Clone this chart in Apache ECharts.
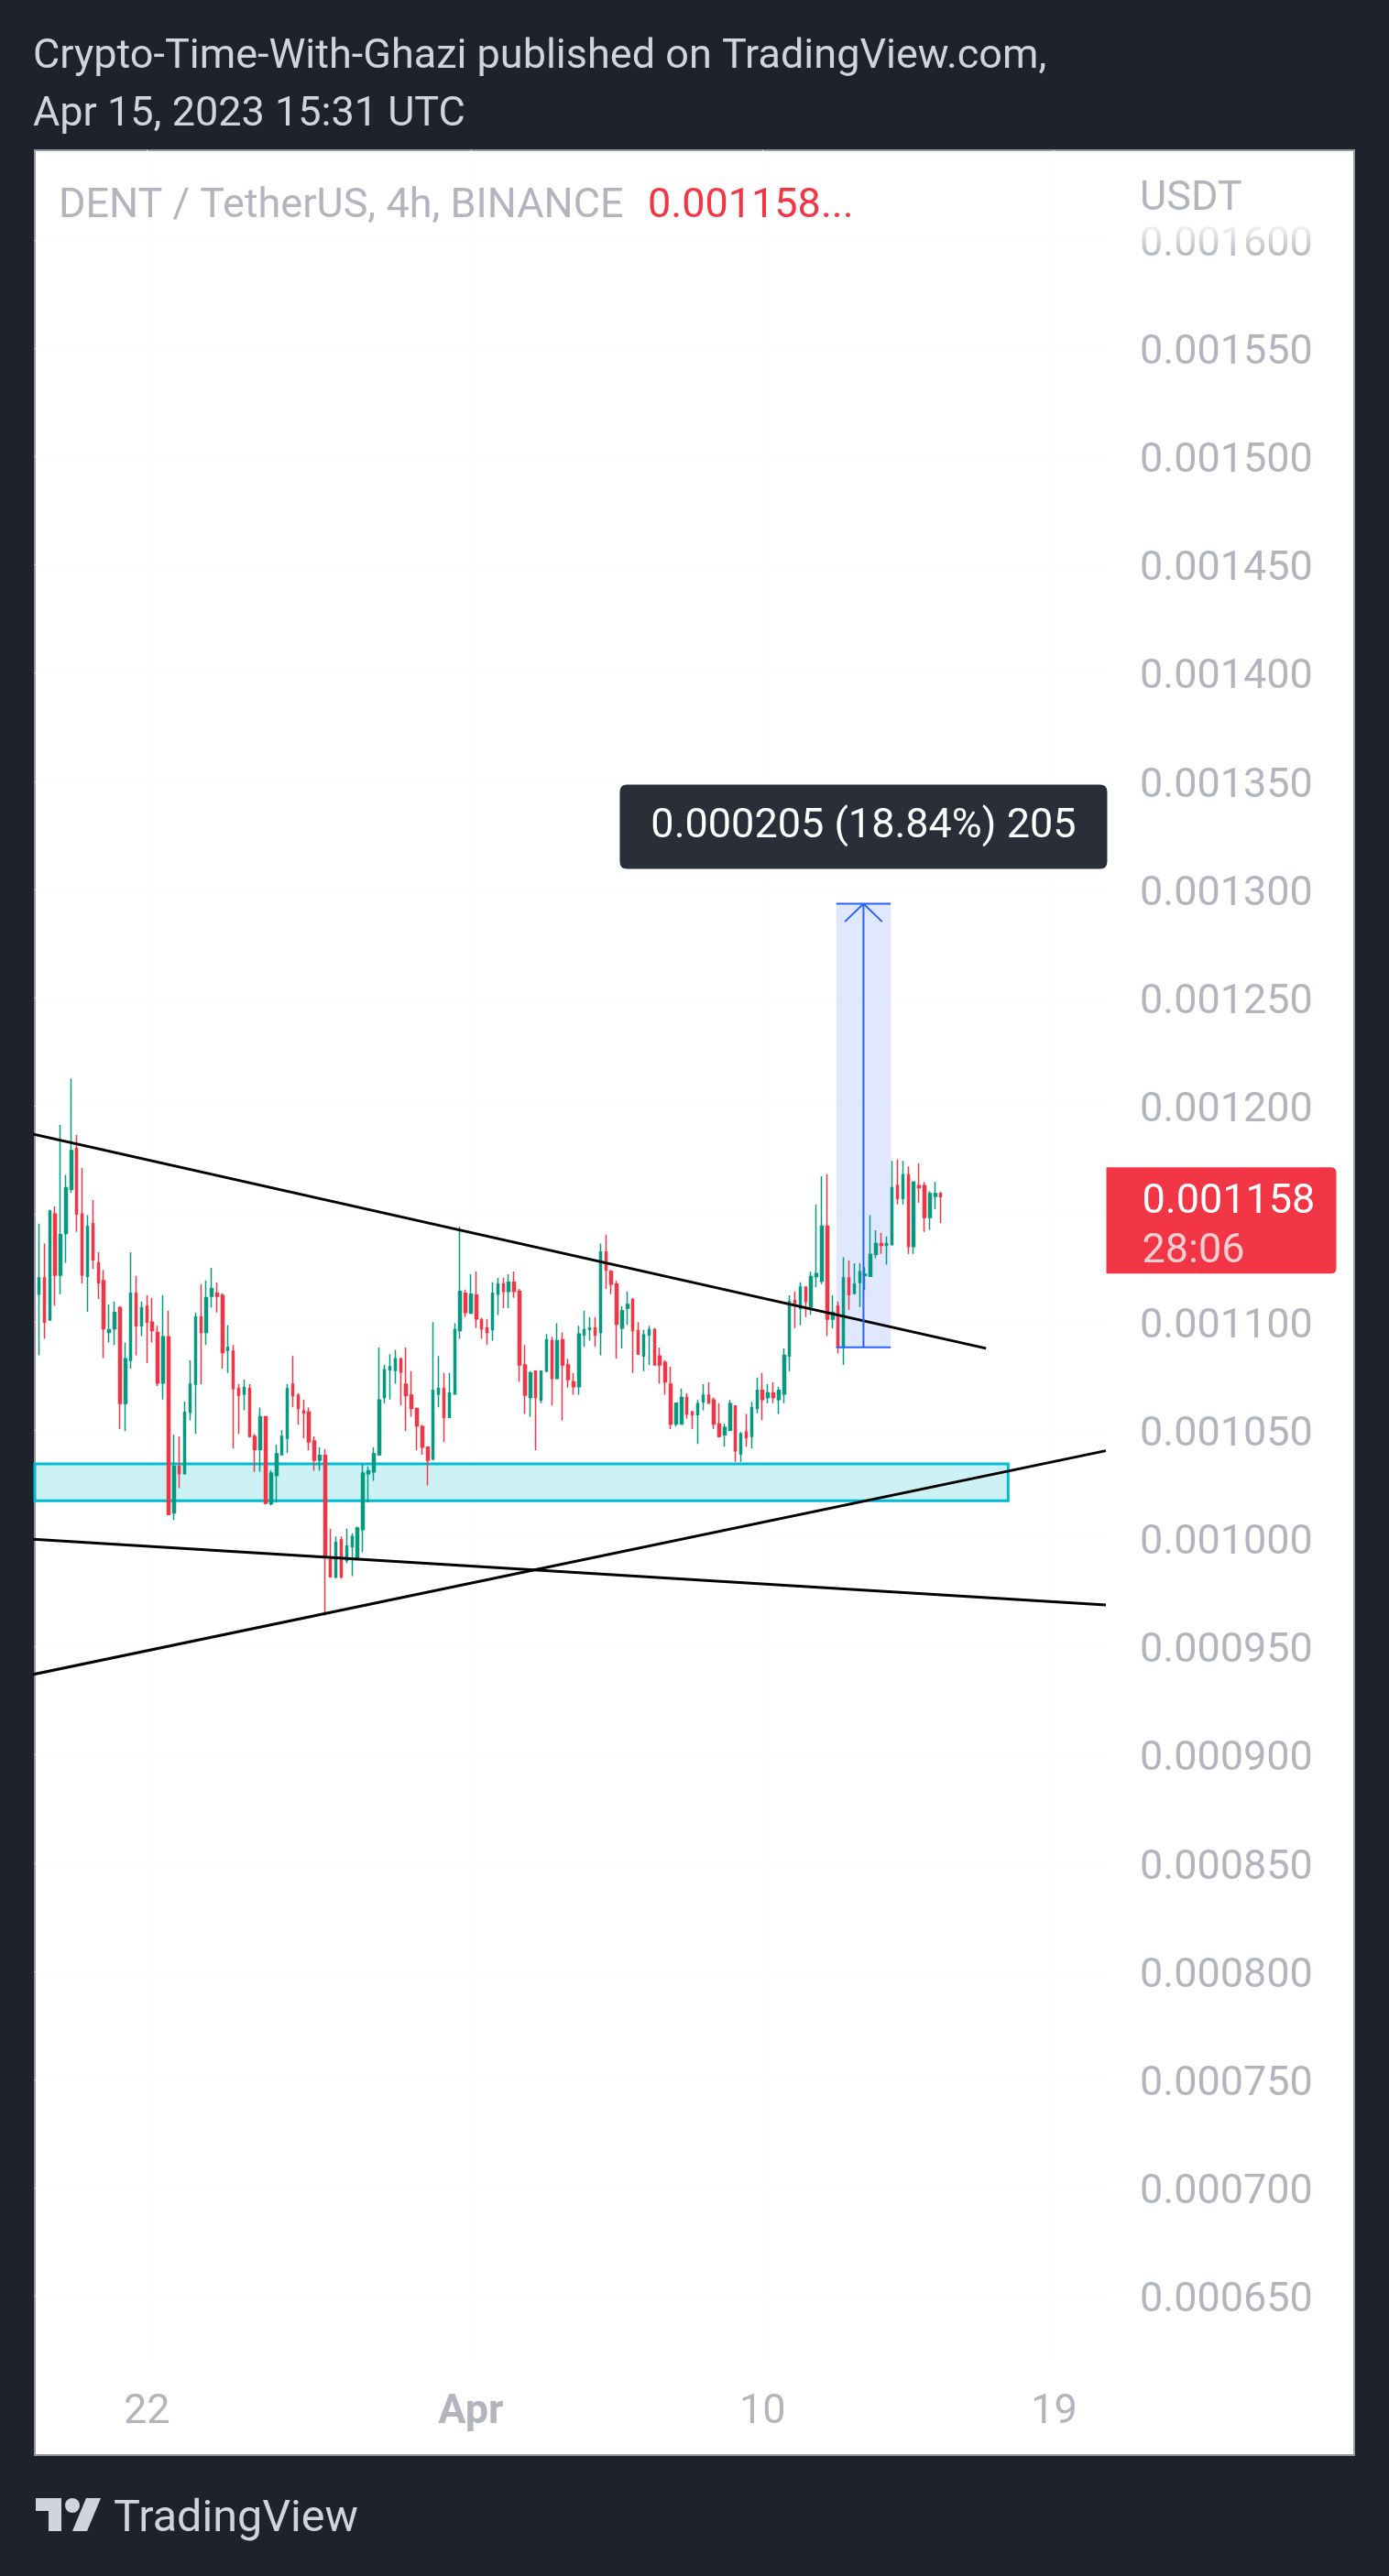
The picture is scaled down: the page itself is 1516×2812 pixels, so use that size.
<!DOCTYPE html>
<html><head><meta charset="utf-8">
<script src="https://cdn.jsdelivr.net/npm/echarts@6/dist/echarts.min.js"></script>
<style>html,body{margin:0;padding:0;background:#1e222d;}#c{width:1516px;height:2812px;}</style>
</head><body><div id="c"></div>
<script>
// 4h candles, index 0 = Mar 18 16:00 UTC ... index 167 = Apr 15 12:00 UTC
const opens = [0.0011129,0.0011204,0.0011011,0.0011500,0.0011217,0.0011410,0.0011614,0.0011803,0.0011500,0.0011212,
0.0011455,0.0011274,0.0011192,0.0010953,0.0010970,0.0011067,0.0010625,0.0010824,0.0011134,0.0010983,
0.0011073,0.0011000,0.0010953,0.0010719,0.0010933,0.0010119,0.0010333,0.0010300,0.0010583,0.0010713,
0.0011023,0.0010953,0.0011120,0.0011134,0.0011124,0.0010870,0.0010866,0.0010693,0.0010668,0.0010693,
0.0010472,0.0010412,0.0010563,0.0010161,0.0010292,0.0010387,0.0010464,0.0010713,0.0010663,0.0010590,
0.0010585,0.0010451,0.0010362,0.0010384,0.0009903,0.0009823,0.0009994,0.0009898,0.0009962,0.0009903,
0.0010041,0.0010300,0.0010308,0.0010387,0.0010652,0.0010780,0.0010777,0.0010831,0.0010713,0.0010663,
0.0010601,0.0010518,0.0010422,0.0010367,0.0010668,0.0010693,0.0010560,0.0010668,0.0010961,0.0011134,
0.0011042,0.0011125,0.0011011,0.0010973,0.0010965,0.0011129,0.0011176,0.0011142,0.0011184,0.0011142,
0.0010802,0.0010652,0.0010774,0.0010640,0.0010774,0.0010914,0.0010740,0.0010919,0.0010802,0.0010724,
0.0010702,0.0010941,0.0010966,0.0010973,0.0010953,0.0011324,0.0011234,0.0011176,0.0010973,0.0011065,
0.0011104,0.0010961,0.0010844,0.0010941,0.0010965,0.0010844,0.0010814,0.0010713,0.0010529,0.0010529,
0.0010652,0.0010585,0.0010573,0.0010632,0.0010663,0.0010640,0.0010529,0.0010479,0.0010501,0.0010613,
0.0010392,0.0010492,0.0010472,0.0010601,0.0010685,0.0010652,0.0010673,0.0010643,0.0010668,0.0010844,
0.0011100,0.0011065,0.0011162,0.0011070,0.0011211,0.0011190,0.0011444,0.0011014,0.0011073,0.0010887,
0.0011204,0.0011134,0.0011183,0.0011216,0.0011212,0.0011313,0.0011363,0.0011355,0.0011358,0.0011631,
0.0011572,0.0011681,0.0011349,0.0011631,0.0011631,0.0011484,0.0011581,0.0011594];
const closes = [0.0011204,0.0011000,0.0011514,0.0011217,0.0011405,0.0011622,0.0011793,0.0011500,0.0011217,0.0011442,
0.0011288,0.0011182,0.0010970,0.0010965,0.0011045,0.0010625,0.0010831,0.0011134,0.0010983,0.0011067,
0.0011000,0.0010961,0.0010719,0.0010933,0.0010111,0.0010333,0.0010300,0.0010583,0.0010713,0.0011023,
0.0010953,0.0011113,0.0011155,0.0011120,0.0010859,0.0010883,0.0010693,0.0010663,0.0010697,0.0010472,
0.0010412,0.0010563,0.0010163,0.0010303,0.0010392,0.0010472,0.0010693,0.0010660,0.0010601,0.0010580,
0.0010447,0.0010362,0.0010384,0.0009915,0.0009823,0.0009982,0.0009823,0.0009965,0.0010010,0.0010049,
0.0010303,0.0010313,0.0010392,0.0010640,0.0010780,0.0010794,0.0010831,0.0010769,0.0010660,0.0010601,
0.0010521,0.0010422,0.0010362,0.0010685,0.0010693,0.0010560,0.0010672,0.0010965,0.0011142,0.0011045,
0.0011129,0.0011015,0.0010970,0.0010953,0.0011134,0.0011176,0.0011142,0.0011184,0.0011142,0.0010802,
0.0010663,0.0010765,0.0010652,0.0010774,0.0010919,0.0010740,0.0010914,0.0010802,0.0010735,0.0010702,
0.0010945,0.0010965,0.0010973,0.0010941,0.0011324,0.0011242,0.0011176,0.0010991,0.0011053,0.0011082,
0.0010961,0.0010852,0.0010941,0.0010965,0.0010802,0.0010802,0.0010724,0.0010529,0.0010626,0.0010652,
0.0010576,0.0010573,0.0010623,0.0010663,0.0010626,0.0010529,0.0010472,0.0010513,0.0010623,0.0010405,
0.0010484,0.0010467,0.0010605,0.0010685,0.0010643,0.0010673,0.0010652,0.0010685,0.0010847,0.0011095,
0.0011087,0.0011162,0.0011095,0.0011211,0.0011225,0.0011444,0.0011014,0.0011046,0.0010887,0.0011204,
0.0011127,0.0011176,0.0011233,0.0011221,0.0011313,0.0011363,0.0011355,0.0011363,0.0011622,0.0011572,
0.0011681,0.0011349,0.0011648,0.0011622,0.0011484,0.0011594,0.0011594,0.0011580];
const highs = [0.0011455,0.0011363,0.0011520,0.0011535,0.0011912,0.0011681,0.0012125,0.0011865,0.0011713,0.0011494,
0.0011564,0.0011323,0.0011242,0.0011082,0.0011095,0.0011073,0.0010906,0.0011323,0.0011214,0.0011095,
0.0011125,0.0011112,0.0010983,0.0011125,0.0011053,0.0010481,0.0010472,0.0010633,0.0010824,0.0011045,
0.0011176,0.0011193,0.0011251,0.0011183,0.0011134,0.0010986,0.0010894,0.0010713,0.0010735,0.0010713,
0.0010484,0.0010605,0.0010563,0.0010315,0.0010434,0.0010501,0.0010713,0.0010844,0.0010672,0.0010642,
0.0010605,0.0010472,0.0010422,0.0010414,0.0010046,0.0010010,0.0010010,0.0010046,0.0010024,0.0010055,
0.0010345,0.0010333,0.0010422,0.0010883,0.0010802,0.0010852,0.0010872,0.0010835,0.0010883,0.0010774,
0.0010605,0.0010526,0.0010425,0.0011000,0.0010844,0.0010765,0.0010765,0.0010995,0.0011442,0.0011150,
0.0011221,0.0011234,0.0011020,0.0011015,0.0011184,0.0011204,0.0011204,0.0011221,0.0011234,0.0011154,
0.0010894,0.0010774,0.0010776,0.0010776,0.0010945,0.0010933,0.0010995,0.0010953,0.0010831,0.0010765,
0.0010983,0.0011053,0.0011023,0.0011023,0.0011363,0.0011405,0.0011242,0.0011191,0.0011073,0.0011142,
0.0011112,0.0011000,0.0010965,0.0010983,0.0010973,0.0010883,0.0010824,0.0010794,0.0010628,0.0010693,
0.0010672,0.0010590,0.0010640,0.0010713,0.0010722,0.0010652,0.0010626,0.0010531,0.0010640,0.0010615,
0.0010492,0.0010576,0.0010632,0.0010744,0.0010765,0.0010713,0.0010722,0.0010702,0.0010878,0.0011124,
0.0011142,0.0011184,0.0011165,0.0011233,0.0011543,0.0011674,0.0011684,0.0011124,0.0011096,0.0011300,
0.0011285,0.0011272,0.0011272,0.0011254,0.0011494,0.0011425,0.0011413,0.0011396,0.0011745,0.0011753,
0.0011745,0.0011720,0.0011650,0.0011735,0.0011648,0.0011606,0.0011648,0.0011602];
const lows = [0.0010847,0.0010923,0.0011005,0.0011075,0.0011129,0.0011274,0.0011597,0.0011417,0.0011179,0.0011048,
0.0011246,0.0011107,0.0010834,0.0010906,0.0010894,0.0010506,0.0010496,0.0010785,0.0010847,0.0010936,
0.0010811,0.0010906,0.0010705,0.0010643,0.0010108,0.0010086,0.0010233,0.0010300,0.0010546,0.0010484,
0.0010713,0.0010894,0.0011068,0.0011045,0.0010785,0.0010765,0.0010417,0.0010484,0.0010593,0.0010467,
0.0010308,0.0010308,0.0010158,0.0010154,0.0010166,0.0010387,0.0010395,0.0010606,0.0010526,0.0010464,
0.0010409,0.0010313,0.0010313,0.0009644,0.0009820,0.0009815,0.0009815,0.0009886,0.0009826,0.0009900,
0.0009937,0.0010166,0.0010267,0.0010382,0.0010626,0.0010643,0.0010715,0.0010615,0.0010496,0.0010563,
0.0010409,0.0010387,0.0010246,0.0010362,0.0010606,0.0010446,0.0010558,0.0010665,0.0010923,0.0011023,
0.0011040,0.0010973,0.0010923,0.0010894,0.0010914,0.0011033,0.0011065,0.0011065,0.0011112,0.0010724,
0.0010576,0.0010563,0.0010409,0.0010626,0.0010769,0.0010615,0.0010738,0.0010546,0.0010697,0.0010665,
0.0010665,0.0010886,0.0010914,0.0010886,0.0010847,0.0011154,0.0011129,0.0010832,0.0010878,0.0010986,
0.0010765,0.0010850,0.0010774,0.0010802,0.0010800,0.0010715,0.0010665,0.0010506,0.0010518,0.0010526,
0.0010554,0.0010506,0.0010437,0.0010593,0.0010624,0.0010506,0.0010467,0.0010426,0.0010496,0.0010355,
0.0010355,0.0010426,0.0010417,0.0010579,0.0010546,0.0010626,0.0010626,0.0010576,0.0010626,0.0010774,
0.0010973,0.0010986,0.0011023,0.0011035,0.0011162,0.0011176,0.0010936,0.0010972,0.0010856,0.0010802,
0.0011056,0.0011127,0.0011070,0.0011148,0.0011209,0.0011296,0.0011316,0.0011266,0.0011355,0.0011544,
0.0011544,0.0011316,0.0011316,0.0011552,0.0011417,0.0011427,0.0011522,0.0011458];

// time axis labels (candle index of each labelled midnight)
const timeTickIdx = [20, 80, 134, 188];
const timeTickText = ['22', 'Apr', '10', '19'];
// price axis tick labels
const priceTicks = [0.00065,0.0007,0.00075,0.0008,0.00085,0.0009,0.00095,0.001,0.00105,0.0011,
0.00115,0.0012,0.00125,0.0013,0.00135,0.0014,0.00145,0.0015,0.00155,0.0016];

const lastPrice = 0.001158;
const countdown = '28:06';

// drawings, in (candle index, price)
const upperTrend = [[-3, 0.0011880], [175.4, 0.0010879]];
const lowerLine = [[-3, 0.0010000], [197.6, 0.0009693]];
const risingTrend = [[-3, 0.0009362], [197.6, 0.0010406]];
const supportZone = [[-3, 0.0010345], [179.5, 0.0010175]];
const measureBox = [[147.66, 0.0012934], [157.76, 0.0010884]];
const measureMidX = [152.71];
const measureArrowHead = [[149.26, 0.0012851], [152.71, 0.0012934], [156.16, 0.0012851]];
const measureText = '0.000205 (18.84%) 205';

const candleData = opens.map((o, i) => [i, o, closes[i], lows[i], highs[i]]);
const UP = '#089981', DOWN = '#f23645', BLUE = '#2962ff';
const FONT = 'Roboto';
const FS = 45;

const chart = echarts.init(document.getElementById('c'), null, {renderer: 'canvas'});

function lineSeries(data, color, width, z) {
  return {type: 'line', data: data, symbol: 'none', silent: true, z: z,
    lineStyle: {color: color, width: width}, clip: true, animation: false};
}

const option = {
  animation: false,
  backgroundColor: '#1e222d',
  textStyle: {fontFamily: FONT},
  grid: {left: 38, right: 309, top: 164, bottom: 236, containLabel: false},
  xAxis: {
    type: 'value', min: -0.76, max: 197.6,
    axisLine: {show: false},
    axisTick: {show: false, customValues: timeTickIdx},
    splitLine: {show: true, lineStyle: {color: '#fafbfc', width: 1}},
    axisLabel: {
      customValues: timeTickIdx, color: '#b2b5be', fontSize: FS, fontFamily: FONT,
      margin: 58, verticalAlign: 'middle',
      formatter: function (v) {
        const k = timeTickIdx.indexOf(Math.round(v));
        const t = k >= 0 ? timeTickText[k] : '';
        return t === 'Apr' ? '{b|Apr}' : t;
      },
      rich: {b: {fontWeight: 'bold', fontSize: FS, color: '#b2b5be', fontFamily: FONT}}
    }
  },
  yAxis: {
    type: 'value', position: 'right', min: 0.00062045, max: 0.00164162,
    axisLine: {show: false},
    axisTick: {show: false, customValues: priceTicks},
    splitLine: {show: true, lineStyle: {color: '#fafbfc', width: 1}},
    axisLabel: {
      customValues: priceTicks, color: '#b2b5be', fontSize: FS, fontFamily: FONT, margin: 37,
      verticalAlign: 'top', lineHeight: 11,
      formatter: function (v) { return v.toFixed(6); }
    }
  },
  series: [
    {
      type: 'candlestick', z: 2, data: candleData,
      encode: {x: 0, y: [1, 2, 3, 4]},
      barWidth: 3,
      itemStyle: {color: UP, color0: DOWN, borderColor: UP, borderColor0: DOWN, borderWidth: 1.5},
      clip: true,
      markArea: {
        silent: true,
        data: [
          [{xAxis: supportZone[0][0], yAxis: supportZone[0][1],
            itemStyle: {color: 'rgba(0,188,212,0.2)', borderColor: '#00bcd4', borderWidth: 3}},
           {xAxis: supportZone[1][0], yAxis: supportZone[1][1]}],
          [{xAxis: measureBox[0][0], yAxis: measureBox[0][1],
            itemStyle: {color: 'rgba(41,98,255,0.15)', borderWidth: 0}},
           {xAxis: measureBox[1][0], yAxis: measureBox[1][1]}]
        ]
      },
      markLine: {
        silent: true, symbol: ['none', 'none'],
        label: {show: false},
        lineStyle: {color: DOWN, type: [3, 5], width: 2},
        data: [{yAxis: lastPrice}]
      }
    },
    lineSeries(upperTrend, '#000000', 3, 3),
    lineSeries(lowerLine, '#000000', 3, 3),
    lineSeries(risingTrend, '#000000', 3, 3),
    lineSeries([[measureBox[0][0], measureBox[0][1]], [measureBox[1][0], measureBox[0][1]]], BLUE, 2, 4),
    lineSeries([[measureBox[0][0], measureBox[1][1]], [measureBox[1][0], measureBox[1][1]]], BLUE, 2, 4),
    lineSeries([[measureMidX[0], measureBox[1][1]], [measureMidX[0], measureBox[0][1]]], BLUE, 2, 4),
    lineSeries(measureArrowHead, BLUE, 2, 4),
    {
      type: 'line', data: [], z: 10, silent: true,
      markPoint: {
        silent: true, animation: false,
        data: [
          {
            coord: [197.6, lastPrice],
            symbol: 'path://M0,0H245Q251,0,251,6V110Q251,116,245,116H0Z',
            symbolSize: [251, 116], symbolKeepAspect: false, symbolOffset: [126, 26],
            itemStyle: {color: DOWN},
            label: {
              show: true, position: [39, 11], align: 'left', verticalAlign: 'top',
              formatter: '{p|' + lastPrice.toFixed(6) + '}\n{t|' + countdown + '}',
              rich: {
                p: {color: '#ffffff', fontSize: FS, lineHeight: 54, fontFamily: FONT},
                t: {color: '#fccdd1', fontSize: FS, lineHeight: 54, fontFamily: FONT}
              }
            }
          },
          {
            coord: [measureMidX[0], measureBox[0][1]],
            symbol: 'path://M8,0H524Q532,0,532,8V84Q532,92,524,92H8Q0,92,0,84V8Q0,0,8,0Z',
            symbolSize: [532, 92], symbolKeepAspect: false, symbolOffset: [0, -84],
            itemStyle: {color: '#2a2e39'},
            label: {show: true, position: 'inside', color: '#ffffff', fontSize: FS, fontFamily: FONT,
              padding: [8, 0, 0, 0], formatter: measureText}
          }
        ]
      }
    }
  ],
  graphic: [
    {type: 'rect', z: -100, silent: true, shape: {x: 38, y: 164, width: 1440, height: 2516},
      style: {fill: '#ffffff', stroke: '#9598a1', lineWidth: 2}},
    {type: 'rect', z: 100, silent: true, shape: {x: 1209, y: 166, width: 267, height: 114},
      style: {fill: {type: 'linear', x: 0, y: 0, x2: 0, y2: 1, colorStops: [
        {offset: 0, color: 'rgba(255,255,255,1)'}, {offset: 0.65, color: 'rgba(255,255,255,1)'},
        {offset: 1, color: 'rgba(255,255,255,0)'}]}}},
    {type: 'text', z: 101, x: 36, y: 63, style: {text: 'Crypto-Time-With-Ghazi published on TradingView.com,',
      font: FS + 'px Roboto', fill: '#d1d4dc', verticalAlign: 'middle'}},
    {type: 'text', z: 101, x: 36, y: 126, style: {text: 'Apr 15, 2023 15:31 UTC',
      font: FS + 'px Roboto', fill: '#d1d4dc', verticalAlign: 'middle'}},
    {type: 'text', z: 101, x: 64, y: 226, style: {text: 'DENT / TetherUS, 4h, BINANCE',
      font: FS + 'px Roboto', fill: '#b2b5be', verticalAlign: 'middle'}},
    {type: 'text', z: 101, x: 707, y: 226, style: {text: lastPrice.toFixed(6) + '...',
      font: FS + 'px Roboto', fill: DOWN, verticalAlign: 'middle'}},
    {type: 'text', z: 101, x: 1244, y: 218, style: {text: 'USDT',
      font: FS + 'px Roboto', fill: '#b2b5be', verticalAlign: 'middle'}},
    {type: 'polygon', z: 101, silent: true, shape: {points: [[39,2727],[67,2727],[67,2763],[53,2763],[53,2741],[39,2741]]},
      style: {fill: '#d1d4dc'}},
    {type: 'circle', z: 101, silent: true, shape: {cx: 79, cy: 2735, r: 8}, style: {fill: '#d1d4dc'}},
    {type: 'polygon', z: 101, silent: true, shape: {points: [[95,2763],[79,2763],[94,2727],[110,2727]]},
      style: {fill: '#d1d4dc'}},
    {type: 'text', z: 101, x: 124, y: 2751, style: {text: 'TradingView',
      font: '48.5px Roboto', fill: '#d1d4dc', verticalAlign: 'middle'}}
  ]
};
chart.setOption(option);
</script>
</body></html>
